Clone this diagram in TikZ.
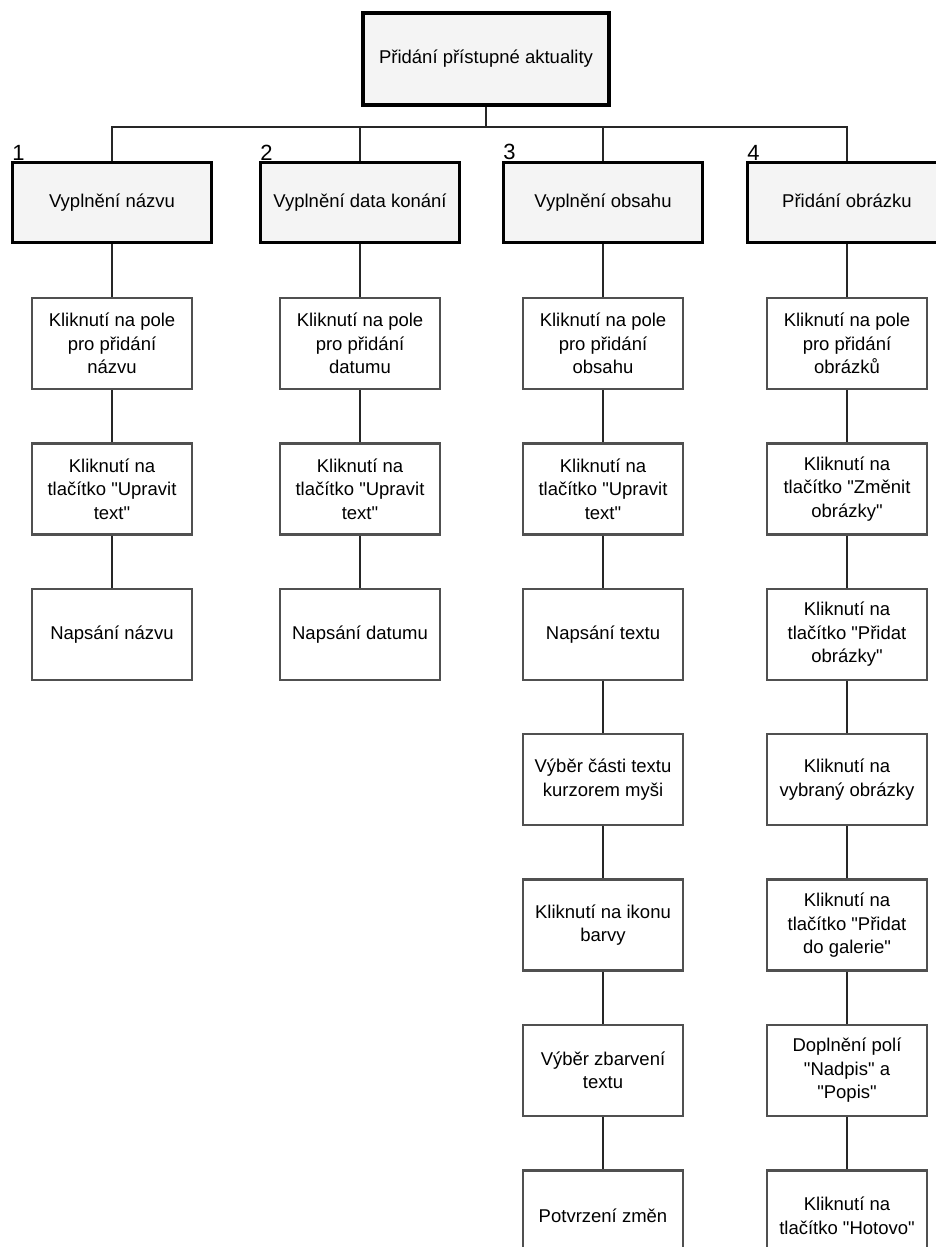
\documentclass[tikz,border=0pt]{standalone}
\usepackage{fontspec}
\setmainfont{Liberation Sans}
\usetikzlibrary{positioning}
\definecolor{boxfill}{HTML}{F4F4F4}
\definecolor{boxline}{HTML}{505050}
\newcommand{\uv}[1]{\textquotedbl#1\textquotedbl}
\begin{document}
\begin{tikzpicture}[x=1pt,y=1pt,
        node font=\fontsize{18.5}{23.5}\selectfont,
        rootbox/.style={draw=black,line width=3.6pt,fill=boxfill,minimum width=246pt,minimum height=92pt,text height=13pt,text depth=4pt},
        topicbox/.style={draw=black,line width=2.6pt,fill=boxfill,minimum width=199pt,minimum height=80pt,text height=13pt,text depth=4pt},
        stepbox/.style={draw=boxline,line width=2.4pt,fill=white,minimum width=160pt,minimum height=91pt,align=center,inner sep=2pt},
        link/.style={line width=2.8pt,draw=black!85},
        num/.style={font=\fontsize{22}{22}\selectfont,anchor=south west,inner sep=1pt},
        node distance=53pt]
    \useasboundingbox (0,0) rectangle (936,-1247);
    \clip (0,0) rectangle (936,-1247);
    % korenovy uzel a sbernice
    \node [rootbox] (root) at (486,-59) {Přidání přístupné aktuality};
    \coordinate (bus) at (486,-127);
    \node [topicbox] (t1) at (112,-202.5) {Vyplnění názvu};
    \node [topicbox] (t2) at (360,-202.5) {Vyplnění data konání};
    \node [topicbox] (t3) at (603,-202.5) {Vyplnění obsahu};
    \node [topicbox] (t4) at (847,-202.5) {Přidání obrázku};
    \foreach \i in {1,2,3,4}
        \node [num] (n\i) at (t\i.north west) {\i};
    \draw [link] (root.south) -- (bus);
    \foreach \i in {1,2,3,4}
        \draw [link] (bus) -| (t\i.north);
    % 1 - nazev
    \node [stepbox, below = of t1] (s11) {Kliknutí na pole\\pro přidání\\názvu};
    \node [stepbox, below = 52pt of s11] (s12) {Kliknutí na\\tlačítko \uv{Upravit\\text}};
    \node [stepbox, below = 52pt of s12] (s13) {Napsání názvu};
    \draw [link] (t1) -- (s11) -- (s12) -- (s13);
    % 2 - datum
    \node [stepbox, below = of t2] (s21) {Kliknutí na pole\\pro přidání\\datumu};
    \node [stepbox, below = 52pt of s21] (s22) {Kliknutí na\\tlačítko \uv{Upravit\\text}};
    \node [stepbox, below = 52pt of s22] (s23) {Napsání datumu};
    \draw [link] (t2) -- (s21) -- (s22) -- (s23);
    % 3 - obsah
    \node [stepbox, below = of t3] (s31) {Kliknutí na pole\\pro přidání\\obsahu};
    \node [stepbox, below = 52pt of s31] (s32) {Kliknutí na\\tlačítko \uv{Upravit\\text}};
    \node [stepbox, below = 52pt of s32] (s33) {Napsání textu};
    \node [stepbox, below = 52pt of s33] (s34) {Výběr části textu\\kurzorem myši};
    \node [stepbox, below = 52pt of s34] (s35) {Kliknutí na ikonu\\barvy};
    \node [stepbox, below = 52pt of s35] (s36) {Výběr zbarvení\\textu};
    \node [stepbox, below = 52pt of s36] (s37) {Potvrzení změn};
    \draw [link] (t3) -- (s31) -- (s32) -- (s33) -- (s34) -- (s35) -- (s36) -- (s37);
    % 4 - obrazek
    \node [stepbox, below = of t4] (s41) {Kliknutí na pole\\pro přidání\\obrázků};
    \node [stepbox, below = 52pt of s41] (s42) {Kliknutí na\\tlačítko \uv{Změnit\\obrázky}};
    \node [stepbox, below = 52pt of s42] (s43) {Kliknutí na\\tlačítko \uv{Přidat\\obrázky}};
    \node [stepbox, below = 52pt of s43] (s44) {Kliknutí na\\vybraný obrázky};
    \node [stepbox, below = 52pt of s44] (s45) {Kliknutí na\\tlačítko \uv{Přidat\\do galerie}};
    \node [stepbox, below = 52pt of s45] (s46) {Doplnění polí\\\uv{Nadpis} a\\\uv{Popis}};
    \node [stepbox, below = 52pt of s46] (s47) {Kliknutí na\\tlačítko \uv{Hotovo}};
    \draw [link] (t4) -- (s41) -- (s42) -- (s43) -- (s44) -- (s45) -- (s46) -- (s47);
\end{tikzpicture}
\end{document}
